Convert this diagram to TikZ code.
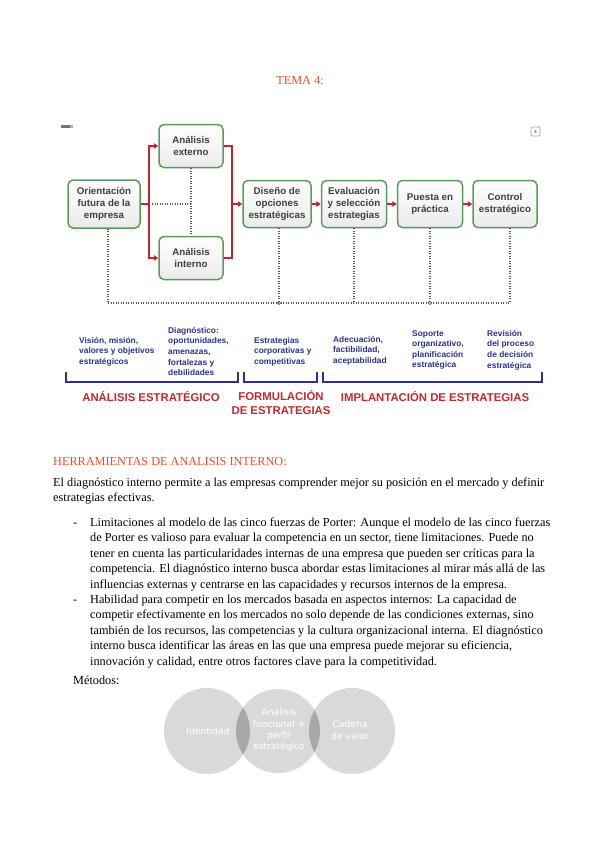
\documentclass[tikz,border=0pt]{standalone}
\usepackage{fontspec}
\setmainfont{Liberation Serif}
\setsansfont{Liberation Sans}
\newfontfamily\vfont{DejaVu Sans}
\usetikzlibrary{arrows.meta}
\definecolor{tred}{HTML}{EE4B22}
\definecolor{dred}{HTML}{C0262B}
\definecolor{dgreen}{HTML}{5C9A5C}
\definecolor{dblue}{HTML}{2B3190}
\definecolor{hred}{HTML}{C22A2E}
\definecolor{cgray}{HTML}{D9D9D9}
\definecolor{lgray}{HTML}{A8A8A8}
\begin{document}
\begin{tikzpicture}[x=1bp,y=-1bp,
  proc/.style={draw=dgreen, line width=1.5bp, rounded corners=5bp, top color=white, bottom color=black!8,
    minimum height=47bp, align=center, font=\sffamily\bfseries\fontsize{9.8}{11.8}\selectfont, text=black!75, inner sep=0.5bp},
  rline/.style={draw=dred, line width=1.7bp},
  rarrow/.style={rline, -{Triangle[length=4.5bp,width=5.5bp]}},
  dotl/.style={draw=black!65, line width=1.3bp, dash pattern=on 1.1bp off 1.4bp},
  blab/.style={anchor=north west, align=left, inner sep=0pt, text=dblue, font=\sffamily\bfseries\fontsize{8.4}{10.6}\selectfont},
  brk/.style={draw=dblue, line width=2.6bp},
  hlab/.style={text=hred, align=center, inner sep=0pt, font=\sffamily\bfseries\fontsize{11.4}{13.4}\selectfont},
  body/.style={anchor=base west, inner sep=0pt, font=\fontsize{12.3}{15}\selectfont},
  circ/.style={text=white, align=center, inner sep=0pt, font=\vfont\fontsize{9.2}{11.2}\selectfont}
]
\useasboundingbox (0,0) rectangle (599,848);
\fill[white] (0,0) rectangle (599,848);

% title
\node[text=tred, font=\fontsize{12.3}{14}\selectfont, anchor=base, inner sep=0pt] (title) at (300,84) {TEMA 4:};

% small icons
\fill[black!55] (61,125) rectangle (70,128);
\fill[black!30] (70,125) rectangle (73,128);
\draw[black!35, line width=0.8bp, rounded corners=1bp] (531,127) rectangle (540,136);
\fill[black!45] (535.5,131.5) circle (1.3bp);

% boxes
\node[proc, minimum width=72bp, minimum height=48bp] (ori) at (104,204) {Orientación\\futura de la\\empresa};
\node[proc, minimum width=64bp, minimum height=43bp] (ext) at (191,146) {Análisis\\externo};
\node[proc, minimum width=64bp, minimum height=43bp] (int) at (191,258) {Análisis\\interno};
\node[proc, minimum width=68bp] (dis) at (277,204) {Diseño de\\opciones\\estratégicas};
\node[proc, minimum width=65bp] (eva) at (354,204) {Evaluación\\y selección\\estrategias};
\node[proc, minimum width=65bp] (pue) at (430,204) {Puesta en\\práctica};
\node[proc, minimum width=64bp] (con) at (505,204) {Control\\estratégico};

% red connectors
\coordinate (sp) at (149,204);
\coordinate (jn) at (232,204);
\draw[rline] (ori.east) -- (sp);
\draw[rarrow] (sp) |- (ext.west);
\draw[rarrow] (sp) |- (int.west);
\draw[rline] (ext.east) -| (jn);
\draw[rline] (int.east) -| (jn);
\draw[rarrow] (jn) -- (dis.west);
\draw[rarrow] (dis.east) -- (eva.west);
\draw[rarrow] (eva.east) -- (pue.west);
\draw[rarrow] (pue.east) -- (con.west);

% dotted connectors
\draw[dotl] ([xshift=3bp]sp) -- (ext.south |- sp);
\draw[dotl] (ext.south) -- (int.north);
\coordinate (b1) at (108,303);
\coordinate (b2) at (279,303);
\coordinate (b3) at (354,303);
\coordinate (b4) at (430,303);
\coordinate (b5) at (510,303);
\draw[dotl] (ori.south -| b1) -- (b1);
\draw[dotl] (dis.south -| b2) -- (b2);
\draw[dotl] (eva.south -| b3) -- (b3);
\draw[dotl] (pue.south -| b4) -- (b4);
\draw[dotl] (con.south -| b5) -- (b5);
\draw[dotl] (b1) -- (b5);
\draw[black!60, line width=0.6bp] (b2) circle (1.6bp);
\draw[black!60, line width=0.6bp] (b4) circle (1.6bp);

% blue labels
\node[blab] (l1) at (79,337) {Visión, misión,\\valores y objetivos\\estratégicos};
\node[blab] (l2) at (168,327) {Diagnóstico:\\oportunidades,\\amenazas,\\fortalezas y\\debilidades};
\node[blab] (l3) at (254,337) {Estrategias\\corporativas y\\competitivas};
\node[blab] (l4) at (333,336) {Adecuación,\\factibilidad,\\aceptabilidad};
\node[blab] (l5) at (412,330) {Soporte\\organizativo,\\planificación\\estratégica};
\node[blab] (l6) at (487,330) {Revisión\\del proceso\\de decisión\\estratégica};

% brackets
\draw[brk] (66,372) -- (66,382) -- (238,382) -- (238,372);
\draw[brk] (244,372) -- (244,382) -- (317,382) -- (317,372);
\draw[brk] (323,372) -- (323,382) -- (542,382) -- (542,372);

% headings
\node[hlab] (h1) at (151,397) {ANÁLISIS ESTRATÉGICO};
\node[hlab, anchor=north] (h2) at (281,390.5) {FORMULACIÓN\\DE ESTRATEGIAS};
\node[hlab] (h3) at (435,397) {IMPLANTACIÓN DE ESTRATEGIAS};

% text
\node[body, text=tred] (herr) at (53,465) {HERRAMIENTAS DE ANALISIS INTERNO:};
\node[body] (p1) at (53,486) {El diagnóstico interno permite a las empresas comprender mejor su posición en el mercado y definir};
\node[body] (p2) at (53,501.5) {estrategias efectivas.};

\node[body] (d1) at (73,526.5) {-};
\node[body] (a1) at (90,526.5) {Limitaciones al modelo de las cinco fuerzas de Porter: Aunque el modelo de las cinco fuerzas};
\node[body] (a2) at (90,541.9) {de Porter es valioso para evaluar la competencia en un sector, tiene limitaciones. Puede no};
\node[body] (a3) at (90,557.3) {tener en cuenta las particularidades internas de una empresa que pueden ser críticas para la};
\node[body] (a4) at (90,572.7) {competencia. El diagnóstico interno busca abordar estas limitaciones al mirar más allá de las};
\node[body] (a5) at (90,588.1) {influencias externas y centrarse en las capacidades y recursos internos de la empresa.};

\node[body] (d2) at (73,603.5) {-};
\node[body] (c1) at (90,603.5) {Habilidad para competir en los mercados basada en aspectos internos: La capacidad de};
\node[body] (c2) at (90,618.9) {competir efectivamente en los mercados no solo depende de las condiciones externas, sino};
\node[body] (c3) at (90,634.3) {también de los recursos, las competencias y la cultura organizacional interna. El diagnóstico};
\node[body] (c4) at (90,649.7) {interno busca identificar las áreas en las que una empresa puede mejorar su eficiencia,};
\node[body] (c5) at (90,665.1) {innovación y calidad, entre otros factores clave para la competitividad.};

\node[body] (met) at (73,684) {Métodos:};

% circles
\fill[cgray] (207,731) circle (43);
\fill[cgray] (278,731) circle (42);
\fill[cgray] (352,731) circle (43);
\begin{scope}
  \clip (207,731) circle (43);
  \fill[lgray] (278,731) circle (42);
\end{scope}
\begin{scope}
  \clip (278,731) circle (42);
  \fill[lgray] (352,731) circle (43);
\end{scope}
\node[circ] (ci1) at (208,731) {Identidad};
\node[circ] (ci2) at (279,730) {Análisis\\funcional +\\perfil\\estratégico};
\node[circ] (ci3) at (350,730) {Cadena\\de valor};
\end{tikzpicture}
\end{document}
